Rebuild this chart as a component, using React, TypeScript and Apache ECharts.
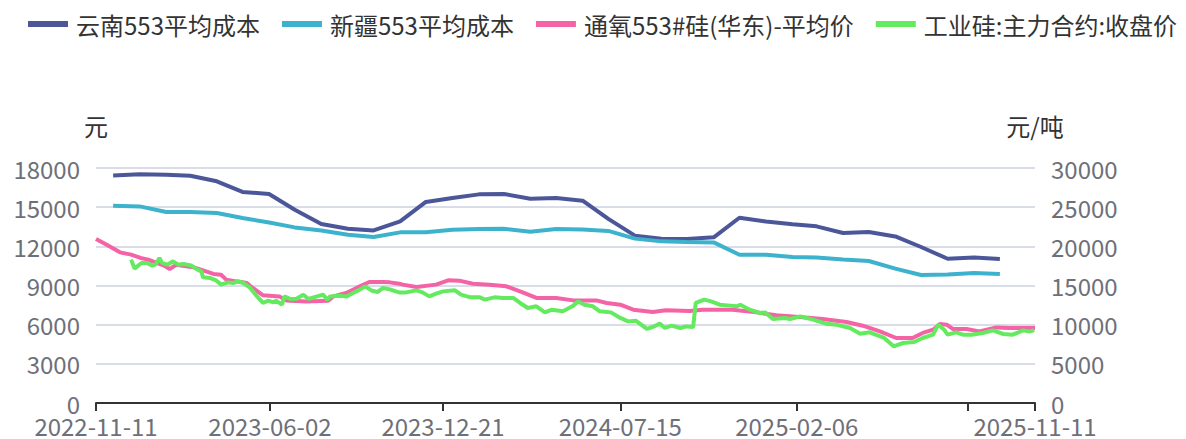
import React, { useEffect, useRef } from "react";
import * as echarts from "echarts";

const seriesNames = [
  "云南553平均成本",
  "新疆553平均成本",
  "通氧553#硅(华东)-平均价",
  "工业硅:主力合约:收盘价",
];
const seriesColors = ["#4b5799", "#3db2cd", "#f463a6", "#63ea5e"];

const xStart = "2022-11-11";
const xEnd = "2025-11-11";
const xLabelDates = ["2022-11-11", "2023-06-02", "2023-12-21", "2024-07-15", "2025-02-06", "2025-11-11"];
const xTickDates = ["2022-11-11", "2023-06-02", "2023-12-21", "2024-07-15", "2025-02-06", "2025-08-25", "2025-11-11"];

// monthly cost series (元)
const costMonths = [
  "2022-12-01",
  "2023-01-01", "2023-02-01", "2023-03-01", "2023-04-01", "2023-05-01", "2023-06-01",
  "2023-07-01", "2023-08-01", "2023-09-01", "2023-10-01", "2023-11-01", "2023-12-01",
  "2024-01-01", "2024-02-01", "2024-03-01", "2024-04-01", "2024-05-01", "2024-06-01",
  "2024-07-01", "2024-08-01", "2024-09-01", "2024-10-01", "2024-11-01", "2024-12-01",
  "2025-01-01", "2025-02-01", "2025-03-01", "2025-04-01", "2025-05-01", "2025-06-01",
  "2025-07-01", "2025-08-01", "2025-09-01", "2025-10-01",
];
const yunnanCost = [
  17430,
  17530, 17480, 17410, 16980, 16170, 16010,
  14800, 13710, 13350, 13220, 13910, 15400,
  15700, 15980, 16010, 15650, 15700, 15500,
  14100, 12820, 12590, 12560, 12690, 14190,
  13900, 13700, 13530, 13020, 13100, 12760,
  11950, 11050, 11150, 11030,
];
const xinjiangCost = [
  15110,
  15060, 14630, 14630, 14550, 14170, 13830,
  13450, 13220, 12890, 12720, 13070, 13070,
  13270, 13320, 13350, 13120, 13330, 13280,
  13180, 12590, 12380, 12340, 12300, 11360,
  11360, 11190, 11150, 11000, 10880, 10290,
  9800, 9850, 9960, 9880,
];

// 通氧553#硅(华东) average price (元/吨)
const spotDates = [
  "2022-11-11", "2022-11-23", "2022-12-09", "2022-12-22", "2023-01-02", "2023-01-11",
  "2023-01-21", "2023-01-29", "2023-02-05", "2023-02-13", "2023-02-20", "2023-03-05",
  "2023-03-16", "2023-03-28", "2023-04-06", "2023-04-12", "2023-04-24", "2023-05-06",
  "2023-05-13", "2023-05-25", "2023-06-13", "2023-06-21", "2023-07-14", "2023-08-09",
  "2023-08-15", "2023-08-30", "2023-09-11", "2023-09-26", "2023-10-12", "2023-10-20",
  "2023-10-31", "2023-11-04", "2023-11-20", "2023-12-13", "2023-12-27", "2024-01-09",
  "2024-01-25", "2024-02-13", "2024-03-04", "2024-03-23", "2024-04-08", "2024-05-01",
  "2024-05-21", "2024-06-17", "2024-06-29", "2024-07-15", "2024-07-30", "2024-08-22",
  "2024-09-06", "2024-10-04", "2024-10-19", "2024-11-23", "2024-12-21", "2025-01-13",
  "2025-02-09", "2025-03-08", "2025-04-05", "2025-04-24", "2025-05-14", "2025-06-02",
  "2025-06-21", "2025-07-03", "2025-07-15", "2025-07-23", "2025-07-31", "2025-08-07",
  "2025-08-23", "2025-09-07", "2025-09-27", "2025-10-12", "2025-11-11",
];
const spotPrice = [
  20950, 20220, 19230, 18940, 18520, 18300,
  17880, 17570, 17110, 17660, 17530, 17320,
  16930, 16470, 16380, 15750, 15530, 15320,
  14690, 13740, 13610, 13100, 12970, 13060,
  13610, 14050, 14690, 15450, 15450, 15400,
  15235, 15110, 14810, 15110, 15660, 15620,
  15230, 15110, 14890, 14120, 13410, 13410,
  13100, 13100, 12770, 12550, 11910, 11620,
  11830, 11750, 11910, 11910, 11570, 11190,
  10980, 10730, 10340, 9870, 9140, 8300,
  8300, 8940, 9360, 10090, 10000, 9450,
  9450, 9140, 9650, 9580, 9580,
];

// 工业硅 main contract close (元/吨)
const futuresDates = [
  "2022-12-22", "2022-12-26", "2023-01-03", "2023-01-09", "2023-01-16", "2023-01-20",
  "2023-01-24", "2023-01-27", "2023-02-02", "2023-02-09", "2023-02-15", "2023-02-21",
  "2023-03-02", "2023-03-08", "2023-03-14", "2023-03-16", "2023-03-24", "2023-03-31",
  "2023-04-06", "2023-04-14", "2023-04-20", "2023-04-26", "2023-05-02", "2023-05-10",
  "2023-05-18", "2023-05-25", "2023-05-31", "2023-06-06", "2023-06-09", "2023-06-16",
  "2023-06-19", "2023-06-26", "2023-07-03", "2023-07-11", "2023-07-17", "2023-07-27",
  "2023-08-03", "2023-08-08", "2023-08-11", "2023-08-23", "2023-08-31", "2023-09-07",
  "2023-09-15", "2023-09-21", "2023-09-29", "2023-10-06", "2023-10-12", "2023-10-20",
  "2023-10-27", "2023-10-31", "2023-11-08", "2023-11-20", "2023-11-27", "2023-12-05",
  "2023-12-13", "2023-12-21", "2024-01-04", "2024-01-11", "2024-01-22", "2024-02-02",
  "2024-02-08", "2024-02-19", "2024-02-29", "2024-03-12", "2024-03-20", "2024-03-29",
  "2024-04-08", "2024-04-18", "2024-04-26", "2024-05-09", "2024-05-20", "2024-05-27",
  "2024-06-03", "2024-06-13", "2024-06-21", "2024-07-04", "2024-07-15", "2024-07-24",
  "2024-08-02", "2024-08-15", "2024-08-22", "2024-08-30", "2024-09-05", "2024-09-13",
  "2024-09-23", "2024-09-30", "2024-10-08", "2024-10-11", "2024-10-21", "2024-10-29",
  "2024-11-08", "2024-11-20", "2024-11-28", "2024-12-02", "2024-12-13", "2024-12-25",
  "2024-12-31", "2025-01-09", "2025-01-23", "2025-01-29", "2025-02-10", "2025-02-25",
  "2025-03-12", "2025-03-24", "2025-04-09", "2025-04-21", "2025-05-02", "2025-05-19",
  "2025-05-30", "2025-06-10", "2025-06-23", "2025-07-03", "2025-07-15", "2025-07-21",
  "2025-07-28", "2025-08-01", "2025-08-11", "2025-08-19", "2025-08-29", "2025-09-11",
  "2025-09-23", "2025-10-05", "2025-10-16", "2025-10-28", "2025-11-05", "2025-11-10",
];
const futuresClose = [
  18300, 17150, 17880, 17880, 17530, 17750,
  18520, 17880, 17660, 18080, 17660, 17750,
  17570, 17110, 16800, 16040, 15960, 15660,
  15110, 15400, 15320, 15530, 15320, 14690,
  13610, 12770, 13060, 12850, 13060, 12550,
  13610, 13280, 13320, 13830, 13280, 13610,
  13830, 13190, 13610, 13700, 13610, 14050,
  14470, 14890, 14340, 14180, 14690, 14510,
  14250, 14120, 14120, 14380, 14120, 13610,
  13960, 14250, 14380, 13830, 13490, 13490,
  13190, 13490, 13410, 13410, 12770, 12130,
  12340, 11570, 11910, 11700, 12340, 12970,
  12550, 12340, 11700, 11570, 10860, 10420,
  10510, 9450, 9710, 10130, 9580, 9870,
  9580, 9780, 9710, 12770, 13190, 12970,
  12550, 12430, 12340, 12550, 11910, 11490,
  11570, 10730, 10860, 10730, 11060, 10640,
  10130, 10000, 9580, 8850, 9020, 8300,
  7230, 7660, 7790, 8300, 8720, 10000,
  9360, 8720, 9020, 8720, 8720, 8940,
  9270, 8810, 8720, 9270, 9140, 9300,
];

function toTs(s: string): number {
  const [y, m, d] = s.split("-").map(Number);
  return Date.UTC(y, m - 1, d);
}
function fmtDate(v: number): string {
  const d = new Date(v);
  const p = (n: number) => (n < 10 ? "0" + n : "" + n);
  return d.getUTCFullYear() + "-" + p(d.getUTCMonth() + 1) + "-" + p(d.getUTCDate());
}
function pairs(dates: string[], vals: number[]) {
  return dates.map((d, i) => [toTs(d), vals[i]]);
}

const FONT = "'Noto Sans CJK SC', 'Noto Sans', sans-serif";

export default function App() {
  const ref = useRef<HTMLDivElement>(null);
  useEffect(() => {
    document.body.style.margin = "0";
    if (!ref.current) return;
    const chart = echarts.init(ref.current, undefined, { renderer: "svg" });
    const lineSeries = (i: number, data: any[], yAxisIndex: number) => ({
      name: seriesNames[i],
      type: "line",
      yAxisIndex,
      data,
      showSymbol: false,
      symbol: "none",
      lineStyle: { width: 4, color: seriesColors[i] },
      itemStyle: { color: seriesColors[i] },
    });
    chart.setOption({
      animation: false,
      textStyle: { fontFamily: FONT },
      legend: {
        top: 7,
        left: 23,
        width: 1300,
        icon: "rect",
        itemWidth: 40,
        itemHeight: 6,
        itemGap: 22,
        textStyle: { fontSize: 24, color: "#333", fontFamily: FONT, padding: [0, 0, 0, 3] },
        data: seriesNames.map((n, i) =>
          i === 2 ? { name: n, textStyle: { width: 268 } } : { name: n }
        ),
      },
      grid: { left: 96, right: 151, top: 168, bottom: 36 },
      xAxis: {
        type: "value",
        min: toTs(xStart),
        max: toTs(xEnd),
        axisLine: { show: true, onZero: false, lineStyle: { color: "#333", width: 2 } },
        axisTick: {
          show: true,
          length: 8,
          lineStyle: { color: "#333", width: 2 },
          customValues: xTickDates.map(toTs),
        },
        axisLabel: {
          customValues: xLabelDates.map(toTs),
          formatter: (v: number) => fmtDate(v),
          fontSize: 24,
          color: "#6e7079",
          margin: 10,
          hideOverlap: false,
          fontFamily: FONT,
        },
        splitLine: { show: false },
      },
      yAxis: [
        {
          type: "value",
          name: "元",
          min: 0,
          max: 18000,
          interval: 3000,
          nameGap: 31,
          nameTextStyle: { fontSize: 24, color: "#333", fontFamily: FONT },
          axisLabel: { fontSize: 24, color: "#6e7079", margin: 16, fontFamily: FONT, formatter: (v: number) => String(v) },
          axisLine: { show: false },
          axisTick: { show: false },
          splitLine: { lineStyle: { color: "#d9dde8", width: 2 } },
        },
        {
          type: "value",
          name: "元/吨",
          min: 0,
          max: 30000,
          interval: 5000,
          nameGap: 31,
          nameTextStyle: { fontSize: 24, color: "#333", fontFamily: FONT },
          axisLabel: { fontSize: 24, color: "#6e7079", margin: 16, fontFamily: FONT, formatter: (v: number) => String(v) },
          axisLine: { show: false },
          axisTick: { show: false },
          splitLine: { show: false },
        },
      ],
      series: [
        lineSeries(0, pairs(costMonths, yunnanCost), 0),
        lineSeries(1, pairs(costMonths, xinjiangCost), 0),
        lineSeries(2, pairs(spotDates, spotPrice), 1),
        lineSeries(3, pairs(futuresDates, futuresClose), 1),
      ],
    });
    return () => chart.dispose();
  }, []);
  return <div ref={ref} style={{ width: 1186, height: 439 }} />;
}
